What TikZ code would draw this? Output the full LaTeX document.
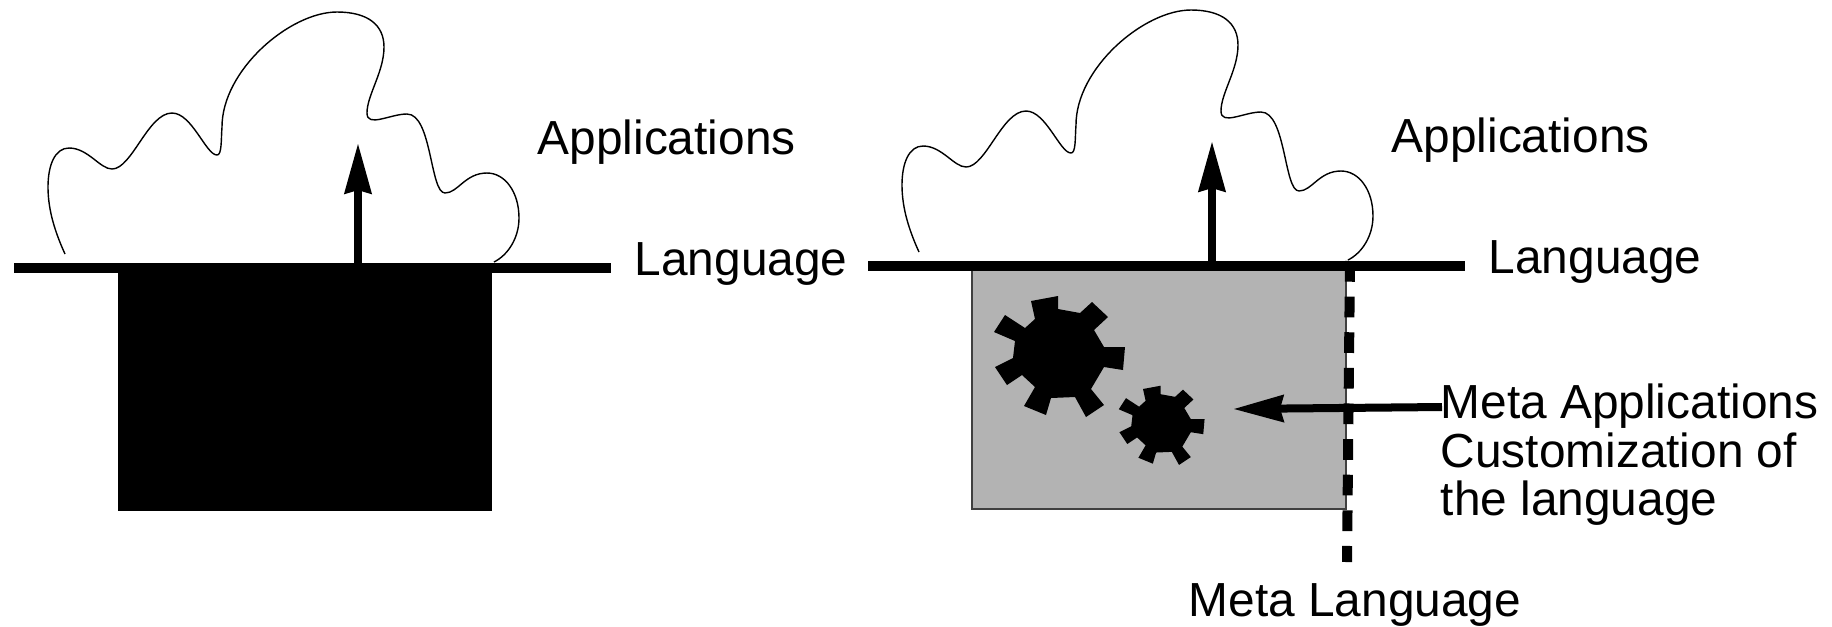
\documentclass[tikz,border=0pt]{standalone}
\usepackage{fontspec}
\setmainfont{Liberation Sans}
\usetikzlibrary{arrows.meta}
\tikzset{
  label text/.style={anchor=base west,inner sep=0pt,align=left,font=\fontsize{13.6}{13.7}\selectfont},
  thick bar/.style={line width=0.1cm},
  up arrow/.style={line width=0.08cm,-{Stealth[length=0.5cm,width=0.26cm,inset=0.03cm]}},
  cloud/.pic={
    \draw[line width=0.014cm] (65,254) .. controls (55,232) and (48,210) .. (48,187)
      .. controls (48,165) and (55,148) .. (69,148)
      .. controls (88,148) and (100,169) .. (112,169)
      .. controls (132,169) and (148,113) .. (172,113)
      .. controls (192,113) and (206,155) .. (217,155)
      .. controls (222,155) and (221,140) .. (222,127)
      .. controls (222,70) and (290,12) .. (337,12)
      .. controls (368,12) and (384,25) .. (384,47)
      .. controls (384,72) and (367,95) .. (367,113)
      .. controls (367,128) and (390,114) .. (407,114)
      .. controls (432,114) and (430,193) .. (445,193)
      .. controls (458,193) and (465,173) .. (487,173)
      .. controls (505,173) and (519,192) .. (519,218)
      .. controls (519,238) and (508,255) .. (494,262);
  },
  gear/.pic={
    \fill (-29,-55) -- (-2,-60) -- (-2,-47) -- (20,-43) -- (32,-54) -- (48,-39) -- (34,-26) -- (44,-9) -- (65,-9) -- (63,14) -- (44,11) -- (31,33) -- (44,49) -- (26,61) -- (15,41) -- (-9,42) -- (-14,59) -- (-36,50) -- (-25,31) -- (-38,19) -- (-53,29) -- (-65,11) -- (-47,2) -- (-45,-15) -- (-66,-24) -- (-55,-41) -- (-35,-28) -- (-25,-37) -- cycle;
  }
}
\begin{document}
\begin{tikzpicture}[x=0.01cm,y=-0.01cm]
  \useasboundingbox (0,0) rectangle (1832,626);

  \pic at (0,0) {cloud};
  \fill (118,267) rectangle (492,511);
  \coordinate (barLa) at (14,267.5);
  \coordinate (barLb) at (611,267.5);
  \draw[thick bar] (barLa) -- (barLb);
  \coordinate (arrowLa) at (358,263);
  \coordinate (arrowLb) at (358,143);
  \draw[up arrow] (arrowLa) -- (arrowLb);
  \node[label text] (appL) at (537,154) {Applications};
  \node[label text] (langL) at (634,275) {Language};

  \pic at (854,-2) {cloud};
  \draw[fill={rgb,255:red,179;green,179;blue,179},line width=0.012cm,draw=black!75] (972,265) rectangle (1346,509);
  \pic at (1060,356) {gear};
  \pic[scale=0.655] at (1162,425) {gear};
  \coordinate (barRa) at (868,265.5);
  \coordinate (barRb) at (1465,265.5);
  \draw[thick bar] (barRa) -- (barRb);
  \coordinate (metaa) at (1350,261);
  \coordinate (metab) at (1347,562);
  \draw[line width=0.1cm,dash pattern=on 0.207cm off 0.149cm] (metaa) -- (metab);
  \coordinate (arrowRa) at (1212,263);
  \coordinate (arrowRb) at (1212,141);
  \draw[up arrow] (arrowRa) -- (arrowRb);
  \coordinate (custa) at (1442,407);
  \coordinate (custb) at (1233,409);
  \draw[up arrow] (custa) -- (custb);
  \node[label text] (appR) at (1391,152) {Applications};
  \node[label text] (langR) at (1488,273) {Language};
  \node[label text,anchor=north west] (custom) at (1440,383.5) {Meta Applications\\Customization of\\the language};
  \node[label text] (metaL) at (1188,616) {Meta Language};
\end{tikzpicture}
\end{document}
